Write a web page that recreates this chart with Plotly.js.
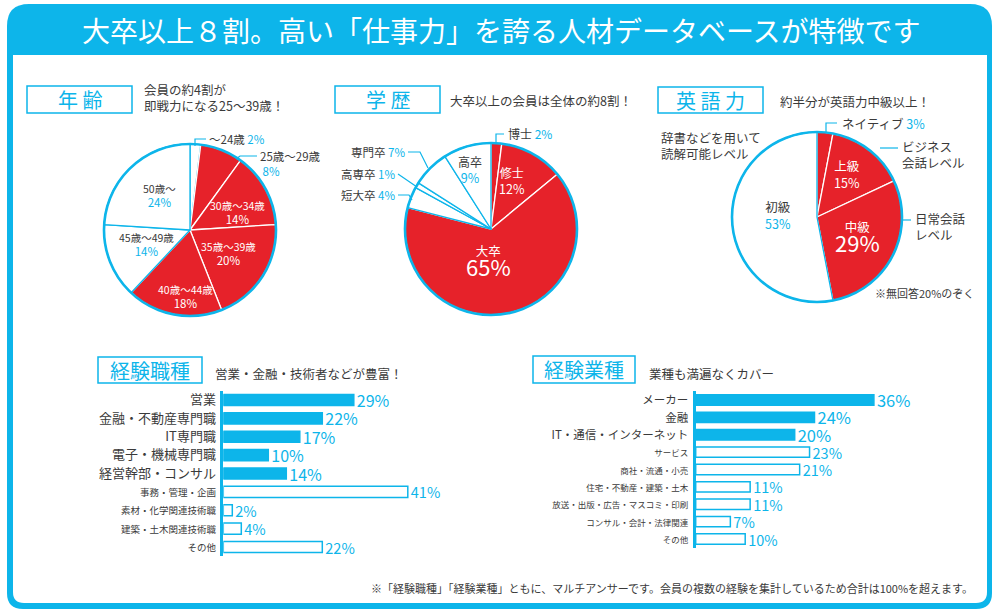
<!DOCTYPE html>
<html><head><meta charset="utf-8">
<script src="https://cdn.plot.ly/plotly-3.0.1.min.js"></script>
<style>html,body{margin:0;padding:0;background:#fff}#chart{width:1000px;height:616px}</style>
</head><body><div id="chart"></div>
<script>
const CYAN = '#0db5ea', RED = '#e6222a', DARK = '#3a3a3a', WHITE = '#ffffff';
const FONT = '"Noto Sans CJK JP", "Noto Sans", sans-serif';

// ---------- data ----------
const title = '大卒以上８割。高い「仕事力」を誇る人材データベースが特徴です';

const ageHeader = '年 齢';
const ageSub = '会員の約4割が<br>即戦力になる25〜39歳！';
const ageLabels = ['〜24歳', '25歳〜29歳', '30歳〜34歳', '35歳〜39歳', '40歳〜44歳', '45歳〜49歳', '50歳〜'];
const ageValues = [2, 8, 14, 20, 18, 14, 24];
const ageHighlight = [false, true, true, true, true, false, false];

const eduHeader = '学 歴';
const eduSub = '大卒以上の会員は全体の約8割！';
const eduLabels = ['博士', '修士', '大卒', '短大卒', '高専卒', '専門卒', '高卒'];
const eduValues = [2, 12, 65, 4, 1, 7, 9];
const eduHighlight = [true, true, true, false, false, false, false];

const engHeader = '英 語 力';
const engSub = '約半分が英語力中級以上！';
const engLabels = ['ネイティブ', '上級', '中級', '初級'];
const engValues = [3, 15, 29, 53];
const engHighlight = [true, true, true, false];
const engDesc = ['', 'ビジネス<br>会話レベル', '日常会話<br>レベル', '辞書などを用いて<br>読解可能レベル'];
const engNote = '※無回答20%のぞく';

const jobHeader = '経験職種';
const jobSub = '営業・金融・技術者などが豊富！';
const jobCats = ['営業', '金融・不動産専門職', 'IT専門職', '電子・機械専門職', '経営幹部・コンサル', '事務・管理・企画', '素材・化学関連技術職', '建築・土木関連技術職', 'その他'];
const jobValues = [29, 22, 17, 10, 14, 41, 2, 4, 22];
const jobHighlight = [true, true, true, true, true, false, false, false, false];

const indHeader = '経験業種';
const indSub = '業種も満遍なくカバー';
const indCats = ['メーカー', '金融', 'IT・通信・インターネット', 'サービス', '商社・流通・小売', '住宅・不動産・建築・土木', '放送・出版・広告・マスコミ・印刷', 'コンサル・会計・法律関連', 'その他'];
const indValues = [36, 24, 20, 23, 21, 11, 11, 7, 10];
const indHighlight = [true, true, true, false, false, false, false, false, false];

const footnote = '※「経験職種」「経験業種」ともに、マルチアンサーです。会員の複数の経験を集計しているため合計は100%を超えます。';

// ---------- helpers (layout decoration in pixel space) ----------
const W = 1000, H = 616;
const px = x => x / W, py = y => 1 - y / H;
const pt = (x, y) => px(x).toFixed(5) + ',' + py(y).toFixed(5);
function rrect(x0, y0, x1, y1, rt, rb) {
  return 'M' + pt(x0 + rt, y0) + ' L' + pt(x1 - rt, y0) + ' Q' + pt(x1, y0) + ' ' + pt(x1, y0 + rt) +
    ' L' + pt(x1, y1 - rb) + ' Q' + pt(x1, y1) + ' ' + pt(x1 - rb, y1) +
    ' L' + pt(x0 + rb, y1) + ' Q' + pt(x0, y1) + ' ' + pt(x0, y1 - rb) +
    ' L' + pt(x0, y0 + rt) + ' Q' + pt(x0, y0) + ' ' + pt(x0 + rt, y0) + ' Z';
}
function poly(points) {
  return points.map((p, i) => (i ? 'L' : 'M') + pt(p[0], p[1])).join(' ');
}
const annotations = [];
function ann(text, x, y, size, color, xanchor, extra) {
  annotations.push(Object.assign({
    text: text, x: px(x), y: py(y), xref: 'paper', yref: 'paper', showarrow: false,
    xanchor: xanchor || 'center', yanchor: 'middle', align: xanchor === 'left' ? 'left' : (xanchor === 'right' ? 'right' : 'center'),
    font: {family: FONT, size: size, color: color}
  }, extra || {}));
}
const shapes = [];
function leader(points) {
  shapes.push({type: 'path', xref: 'paper', yref: 'paper', path: poly(points), line: {color: CYAN, width: 1.2}});
}
function box(x0, y0, x1, y1) {
  shapes.push({type: 'rect', xref: 'paper', yref: 'paper', x0: px(x0), x1: px(x1), y0: py(y1), y1: py(y0),
    line: {color: CYAN, width: 1.5}, fillcolor: WHITE});
}

// frame
shapes.push({type: 'path', xref: 'paper', yref: 'paper', path: rrect(7, 4, 992, 609, 22, 16), fillcolor: CYAN, line: {width: 0}, layer: 'below'});
shapes.push({type: 'path', xref: 'paper', yref: 'paper', path: rrect(13, 55, 987, 603, 0.01, 11), fillcolor: WHITE, line: {width: 0}, layer: 'below'});
ann(title, 501, 30, 28, WHITE, 'center');

// headers
box(27, 86, 132, 113); ann(ageHeader, 79.5, 99.5, 20, CYAN);
box(335, 86, 440, 113); ann(eduHeader, 387.5, 99.5, 20, CYAN);
box(658, 87, 763, 113); ann(engHeader, 710.5, 100, 20, CYAN);
box(98, 357, 202, 383); ann(jobHeader, 150, 370, 20, CYAN);
box(533, 356, 635, 383); ann(indHeader, 584, 369.5, 20, CYAN);
ann(ageSub, 142, 97.5, 12.5, DARK, 'left');
ann(eduSub, 448, 100, 12.5, DARK, 'left');
ann(engSub, 778, 101, 12.5, DARK, 'left');
ann(jobSub, 213, 373, 12.5, DARK, 'left');
ann(indSub, 647, 373, 12.5, DARK, 'left');

// ---------- pies ----------
const dom1 = [104, 144, 276, 316], dom2 = [405, 143, 577, 315], dom3 = [732, 132, 902, 302];
function pieTrace(labels, values, hl, dom) {
  return {
    type: 'pie', labels: labels, values: values, sort: false, direction: 'clockwise', rotation: 0,
    domain: {x: [px(dom[0]), px(dom[2])], y: [py(dom[3]), py(dom[1])]},
    marker: {colors: hl.map(h => h ? RED : WHITE), line: {color: hl.map(h => h ? WHITE : CYAN), width: 1.3}},
    textinfo: 'none', hoverinfo: 'label+percent', showlegend: false
  };
}
function ringTrace(dom) {
  return {
    type: 'pie', values: [1], labels: ['_'], sort: false,
    domain: {x: [px(dom[0]), px(dom[2])], y: [py(dom[3]), py(dom[1])]},
    marker: {colors: ['rgba(0,0,0,0)'], line: {color: CYAN, width: 2.6}},
    textinfo: 'none', hoverinfo: 'skip', showlegend: false
  };
}
// inside labels placed at each slice's mid-angle (place = [radius fraction, angle nudge])
function pieLabels(labels, values, hl, dom, place, bigLabel, lblSize, pctSize) {
  const cx = (dom[0] + dom[2]) / 2, cy = (dom[1] + dom[3]) / 2;
  const r = Math.min(dom[2] - dom[0], dom[3] - dom[1]) / 2;
  const total = values.reduce((a, b) => a + b, 0);
  let cum = 0;
  labels.forEach((l, i) => {
    const start = cum; cum += values[i];
    if (!place[i]) return;
    const ang = ((start + values[i] / 2) / total * 360 + place[i][1]) * Math.PI / 180;
    const x = cx + r * place[i][0] * Math.sin(ang), y = cy - r * place[i][0] * Math.cos(ang);
    const lc = hl[i] ? WHITE : DARK, pc = hl[i] ? WHITE : CYAN;
    const big = l === bigLabel;
    const ls = big ? 12.5 : lblSize, ps = big ? 22 : pctSize;
    const txt = '<span style="font-size:' + ls + 'px;color:' + lc + '">' + l + '</span><br>' +
      '<span style="font-size:' + ps + 'px;color:' + pc + '">' + values[i] + '%</span>';
    ann(txt, x, y, big ? 15 : ls + 0.5, lc);
  });
}
const traces = [];
traces.push(pieTrace(ageLabels, ageValues, ageHighlight, dom1));
traces.push(ringTrace(dom1));
traces.push(pieTrace(eduLabels, eduValues, eduHighlight, dom2));
traces.push(ringTrace(dom2));
traces.push(pieTrace(engLabels, engValues, engHighlight, dom3));
traces.push(ringTrace(dom3));

pieLabels(ageLabels, ageValues, ageHighlight, dom1,
  [null, null, [0.59, 9], [0.53, -1], [0.77, -6.5], [0.53, 2.6], [0.54, 1.7]], '', 10.5, 11.5);
pieLabels(eduLabels, eduValues, eduHighlight, dom2,
  [null, [0.61, -5], [0.38, 17], null, null, null, [0.73, -3]], '大卒', 12, 12.5);
pieLabels(engLabels, engValues, engHighlight, dom3,
  [null, [0.62, -3], [0.54, 0], [0.46, 8]], '中級', 12.5, 12.5);

// outside labels for small slices
const cyanSpan = t => '<span style="color:' + CYAN + '">' + t + '</span>';
ann(ageLabels[0] + ' ' + cyanSpan(ageValues[0] + '%'), 207, 139, 11.5, DARK, 'left');
leader([[195, 146], [195, 139], [206, 139]]);
ann(ageLabels[1] + '<br> ' + cyanSpan(ageValues[1] + '%'), 258, 163, 11.5, DARK, 'left');
leader([[236, 159], [240, 156], [257, 156]]);

ann(eduLabels[0] + ' ' + cyanSpan(eduValues[0] + '%'), 506, 134, 12, DARK, 'left');
leader([[496, 144], [496, 134], [504, 134]]);
ann(eduLabels[5] + ' ' + cyanSpan(eduValues[5] + '%'), 407, 152, 11.5, DARK, 'right');
leader([[408, 152], [420, 152], [428, 168]]);
ann(eduLabels[4] + ' ' + cyanSpan(eduValues[4] + '%'), 397, 174, 11.5, DARK, 'right');
leader([[398, 174], [417, 187]]);
ann(eduLabels[3] + ' ' + cyanSpan(eduValues[3] + '%'), 397, 195, 11.5, DARK, 'right');
leader([[398, 195], [409, 195], [412, 200]]);

ann(engLabels[0] + ' ' + cyanSpan(engValues[0] + '%'), 840, 123, 12.5, DARK, 'left');
leader([[826, 133], [826, 123], [837, 123]]);
ann(engDesc[1], 900, 154, 12.5, DARK, 'left');
leader([[880, 148], [898, 148]]);
ann(engDesc[2], 913, 227, 12.5, DARK, 'left');
leader([[902, 220], [911, 220]]);
ann(engDesc[3], 659, 145, 12.5, DARK, 'left');
ann(engNote, 873, 293, 11, DARK, 'left');

// ---------- bars ----------
function barTrace(cats, vals, hl, xa, ya, bigSize, smallSize) {
  return {
    type: 'bar', orientation: 'h', y: cats, x: vals, xaxis: xa, yaxis: ya,
    marker: {color: hl.map(h => h ? CYAN : WHITE), line: {color: CYAN, width: 1.5}},
    texttemplate: '%{x}%', textposition: 'outside', cliponaxis: false, constraintext: 'none',
    textfont: {family: FONT, color: CYAN, size: hl.map(h => h ? bigSize : smallSize)},
    hoverinfo: 'y+x', showlegend: false
  };
}
traces.push(barTrace(jobCats, jobValues, jobHighlight, 'x', 'y', 16, 14.5));
traces.push(barTrace(indCats, indValues, indHighlight, 'x2', 'y2', 16.5, 14.5));

function tickText(cats, hl, big, small) {
  return cats.map((c, i) => '<span style="font-size:' + (hl[i] ? big : small) + 'px">' + c + '</span>');
}
const xBase = {showgrid: false, zeroline: false, showticklabels: false, range: [0, 50], fixedrange: true, showline: false};
const yBase = {type: 'category', autorange: 'reversed', showgrid: false, zeroline: false, showline: true,
  linecolor: CYAN, linewidth: 3, ticks: '', ticklabelstandoff: 2, fixedrange: true,
  tickfont: {family: FONT, color: DARK, size: 12}};

ann(footnote, 975, 588, 11, DARK, 'right');

const layout = {
  width: W, height: H, margin: {l: 0, r: 0, t: 0, b: 0}, paper_bgcolor: WHITE, plot_bgcolor: 'rgba(0,0,0,0)',
  font: {family: FONT, color: DARK},
  bargap: 0.4,
  xaxis: Object.assign({}, xBase, {domain: [px(223.3), px(448.3)], anchor: 'y'}),
  yaxis: Object.assign({}, yBase, {domain: [py(556.2), py(390.8)], anchor: 'x',
    tickvals: jobCats, ticktext: tickText(jobCats, jobHighlight, 13, 9.5)}),
  xaxis2: Object.assign({}, xBase, {domain: [px(695.7), px(943.2)], anchor: 'y2'}),
  yaxis2: Object.assign({}, yBase, {domain: [py(547.7), py(391.3)], anchor: 'x2',
    tickvals: indCats, ticktext: tickText(indCats, indHighlight, 11.5, 8.5)}),
  shapes: shapes, annotations: annotations
};

Plotly.newPlot('chart', traces, layout, {displayModeBar: false, staticPlot: true});
</script></body></html>
